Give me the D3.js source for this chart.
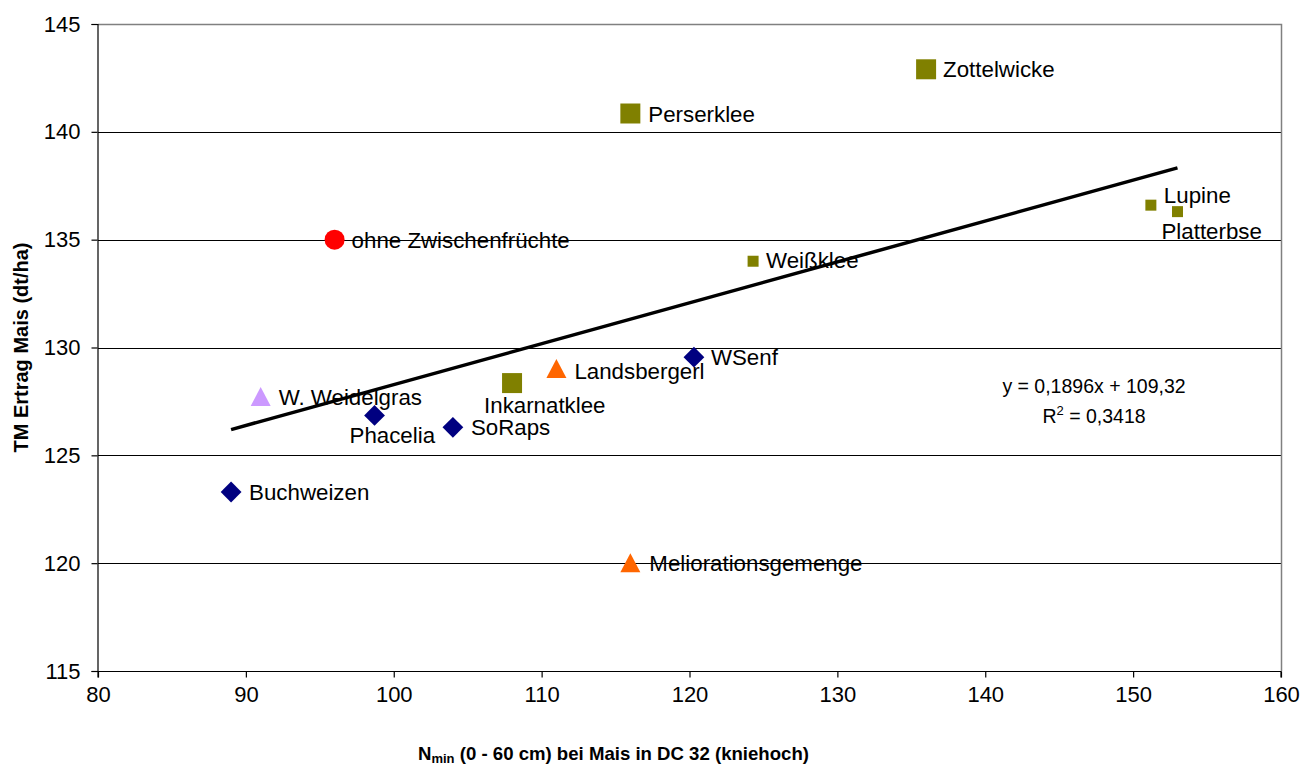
<!DOCTYPE html>
<html>
<head>
<meta charset="utf-8">
<script src="https://cdn.jsdelivr.net/npm/d3@7"></script>
<style>
  html, body { margin: 0; padding: 0; background: #fff; }
  svg { display: block; font-family: "Liberation Sans", Arial, sans-serif; }
</style>
</head>
<body>
<svg id="chart" width="1300" height="767"></svg>
<script>
// ---------- data ----------
const pointNames = ["ohne Zwischenfrüchte", "Buchweizen", "Phacelia", "SoRaps", "WSenf",
  "W. Weidelgras", "Landsbergerl", "Meliorationsgemenge", "Inkarnatklee", "Perserklee",
  "Zottelwicke", "Weißklee", "Lupine", "Platterbse"];
const nminValues = [96.0, 89.0, 98.7, 104.0, 120.3, 91.0, 111.0, 116.0, 108.0, 116.0, 136.0, 124.3, 151.2, 153.0];
const ertragValues = [135.0, 123.3, 126.85, 126.3, 129.55, 127.7, 129.0, 120.0, 128.35, 140.85, 142.9, 134.0, 136.6, 136.3];
const pointGroups = ["ohne", "nichtleg", "nichtleg", "nichtleg", "nichtleg",
  "gras", "gemenge", "gemenge", "kleeGross", "kleeGross", "kleeGross", "kleeKlein", "kleeKlein", "kleeKlein"];
const xTicks = [80, 90, 100, 110, 120, 130, 140, 150, 160];
const yTicks = [115, 120, 125, 130, 135, 140, 145];
const trendSlope = 0.1896;
const trendIntercept = 109.32;
const equationLines = ["y = 0,1896x + 109,32", "R² = 0,3418"];
const xTitleMain = "N";
const xTitleSub = "min";
const xTitleRest = " (0 - 60 cm) bei Mais in DC 32 (kniehoch)";
const yTitle = "TM Ertrag Mais (dt/ha)";

// ---------- styles (separate from data) ----------
const groupStyle = {
  ohne:      { shape: "circle",   size: 20, fill: "#FF0000" },
  nichtleg:  { shape: "diamond",  size: 20, fill: "#000080" },
  gras:      { shape: "triangle", size: 20, fill: "#CC99FF" },
  gemenge:   { shape: "triangle", size: 20, fill: "#FF6600" },
  kleeGross: { shape: "square",   size: 20, fill: "#808000" },
  kleeKlein: { shape: "square",   size: 11, fill: "#808000" }
};
// label placement offsets (pixels, relative to marker centre)
const labelOffsets = {
  "ohne Zwischenfrüchte": [17, 8], "Buchweizen": [18, 8], "Phacelia": [-25, 28],
  "SoRaps": [18, 8], "WSenf": [17, 8], "W. Weidelgras": [18, 8], "Landsbergerl": [18, 10],
  "Meliorationsgemenge": [19, 8], "Inkarnatklee": [-28, 30], "Perserklee": [18, 8],
  "Zottelwicke": [17, 8], "Weißklee": [13, 7], "Lupine": [13, -2], "Platterbse": [-16, 27]
};

const svg = d3.select("#chart");
const plot = { left: 98, right: 1281, top: 24, bottom: 671 };
const x = d3.scaleLinear().domain([80, 160]).range([plot.left, plot.right]);
const y = d3.scaleLinear().domain([115, 145]).range([plot.bottom, plot.top]);

// gridlines
svg.append("g").selectAll("line")
  .data(yTicks.filter(t => t > 115 && t < 145))
  .join("line")
  .attr("x1", plot.left).attr("x2", plot.right)
  .attr("y1", d => Math.round(y(d)) + 0.5).attr("y2", d => Math.round(y(d)) + 0.5)
  .attr("stroke", "#000").attr("stroke-width", 1);

// plot border (top, right) gray
svg.append("path")
  .attr("d", `M${plot.left},${Math.round(y(145)) + 0.5}H${plot.right + 0.5}V${plot.bottom}`)
  .attr("fill", "none").attr("stroke", "#808080").attr("stroke-width", 1.5);

// axes
const xAxis = d3.axisBottom(x).tickValues(xTicks).tickSize(6).tickPadding(9).tickFormat(d3.format("d"));
const yAxis = d3.axisLeft(y).tickValues(yTicks).tickSize(6).tickPadding(11).tickFormat(d3.format("d"));
const gx = svg.append("g").attr("transform", `translate(0,${Math.round(y(115)) + 0.5})`).call(xAxis);
const gy = svg.append("g").attr("transform", `translate(${plot.left - 0.5},0)`).call(yAxis);
[gx, gy].forEach(g => {
  g.select(".domain").attr("stroke", "#000").attr("stroke-width", 1.2);
  g.selectAll(".tick line").attr("stroke", "#000").attr("stroke-width", 1.2);
  g.selectAll(".tick text").attr("fill", "#000")
    .style("font-family", '"Liberation Sans", Arial, sans-serif').style("font-size", "22px");
});
gx.select(".domain").attr("d", `M${plot.left},6V0H${plot.right}V6`);

// trend line
const xExt = d3.extent(nminValues);
svg.append("line")
  .attr("x1", x(xExt[0])).attr("y1", y(trendSlope * xExt[0] + trendIntercept))
  .attr("x2", x(xExt[1])).attr("y2", y(trendSlope * xExt[1] + trendIntercept))
  .attr("stroke", "#000").attr("stroke-width", 3.5);

// markers
function shapePath(shape, s) {
  const h = s / 2;
  if (shape === "square") return `M${-h},${-h}H${h}V${h}H${-h}Z`;
  if (shape === "diamond") { const r = s * 0.52; return `M0,${-r}L${r},0L0,${r}L${-r},0Z`; }
  if (shape === "triangle") return `M0,${-h}L${h},${h - 1}L${-h},${h - 1}Z`;
  const r = h;
  return `M${r},0A${r},${r} 0 1,1 ${-r},0A${r},${r} 0 1,1 ${r},0Z`;
}
const points = pointNames.map((n, i) => ({ name: n, xv: nminValues[i], yv: ertragValues[i], g: pointGroups[i] }));
svg.append("g").selectAll("path")
  .data(points).join("path")
  .attr("transform", d => `translate(${x(d.xv)},${y(d.yv)})`)
  .attr("d", d => shapePath(groupStyle[d.g].shape, groupStyle[d.g].size))
  .attr("fill", d => groupStyle[d.g].fill);

// labels
svg.append("g").selectAll("text")
  .data(points).join("text")
  .attr("x", d => x(d.xv) + labelOffsets[d.name][0])
  .attr("y", d => y(d.yv) + labelOffsets[d.name][1])
  .attr("font-size", 22.3).attr("fill", "#000")
  .text(d => d.name);

// equation
svg.append("g").selectAll("text")
  .data(equationLines).join("text")
  .attr("x", 1094).attr("y", (d, i) => 393 + i * 29.5)
  .attr("text-anchor", "middle").attr("font-size", 19.5).attr("fill", "#000")
  .each(function(d) {
    const t = d3.select(this);
    if (d.startsWith("R²")) {
      t.append("tspan").text("R");
      t.append("tspan").attr("dy", -8).attr("font-size", 13).text("2");
      t.append("tspan").attr("dy", 8).text(d.slice(2));
    } else t.text(d);
  });

// axis titles
const xt = svg.append("text").attr("x", 418).attr("y", 760)
  .attr("font-size", 18.6).attr("font-weight", "bold").attr("fill", "#000");
xt.append("tspan").text(xTitleMain);
xt.append("tspan").attr("dy", 3).attr("font-size", 13).text(xTitleSub);
xt.append("tspan").attr("dy", -3).text(xTitleRest);

svg.append("text")
  .attr("transform", `translate(28,${(plot.top + plot.bottom) / 2}) rotate(-90)`)
  .attr("text-anchor", "middle").attr("font-size", 20).attr("font-weight", "bold").attr("fill", "#000")
  .text(yTitle);
</script>
</body>
</html>
